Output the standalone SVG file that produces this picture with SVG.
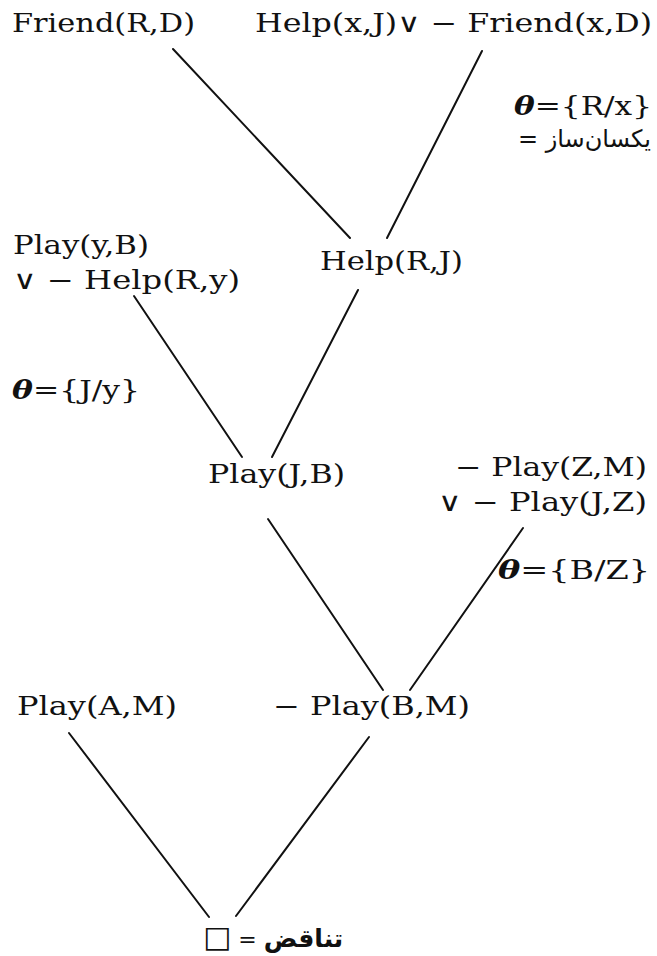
<svg xmlns="http://www.w3.org/2000/svg" width="657" height="956" viewBox="0 0 657 956">
<style>
.t{font-family:"DejaVu Serif","Liberation Serif",serif;font-size:26px;fill:#111}
.th{font-family:"DejaVu Serif",serif;font-weight:bold;font-style:italic}
.fa{font-family:"DejaVu Sans","Noto Sans",sans-serif;font-size:22px;fill:#111}
.c line{stroke:#111;stroke-width:2;stroke-linecap:round}
</style>
<rect width="657" height="956" fill="#fff"/>
<g id="connectors" class="c">
<line x1="173" y1="49" x2="350" y2="238"/>
<line x1="482" y1="51" x2="387" y2="238"/>
<line x1="134" y1="296" x2="242" y2="457"/>
<line x1="358" y1="290" x2="272" y2="457"/>
<line x1="268" y1="519" x2="383" y2="690"/>
<line x1="523" y1="528" x2="410" y2="690"/>
<line x1="69" y1="733" x2="209" y2="917"/>
<line x1="369" y1="737" x2="236" y2="916"/>
</g>
<g id="n-friend-rd"><text class="t" x="12" y="32" textLength="183" lengthAdjust="spacingAndGlyphs">Friend(R,D)</text></g>
<g id="n-help-xj"><text class="t" x="255" y="32" textLength="397" lengthAdjust="spacingAndGlyphs">Help(x,J)∨ − Friend(x,D)</text></g>
<g id="l-theta1">
<text class="t" x="514" y="115" textLength="138" lengthAdjust="spacingAndGlyphs"><tspan class="th">θ</tspan>={R/x}</text>
<text class="fa" x="651" y="147" text-anchor="end" style="font-size:24px">= یکسان‌ساز</text>
</g>
<g id="n-play-yb">
<text class="t" x="13" y="254" textLength="136" lengthAdjust="spacingAndGlyphs">Play(y,B)</text>
<text class="t" x="13" y="289" textLength="227" lengthAdjust="spacingAndGlyphs">∨ − Help(R,y)</text>
</g>
<g id="n-help-rj"><text class="t" x="320" y="270" textLength="143" lengthAdjust="spacingAndGlyphs">Help(R,J)</text></g>
<g id="l-theta2"><text class="t" x="12" y="399" textLength="128" lengthAdjust="spacingAndGlyphs"><tspan class="th">θ</tspan>={J/y}</text></g>
<g id="n-play-jb"><text class="t" x="208" y="483" textLength="137" lengthAdjust="spacingAndGlyphs">Play(J,B)</text></g>
<g id="n-play-zm">
<text class="t" x="455" y="476" textLength="192" lengthAdjust="spacingAndGlyphs">− Play(Z,M)</text>
<text class="t" x="438" y="511" textLength="209" lengthAdjust="spacingAndGlyphs">∨ − Play(J,Z)</text>
</g>
<g id="l-theta3"><text class="t" x="498" y="579" textLength="152" lengthAdjust="spacingAndGlyphs"><tspan class="th">θ</tspan>={B/Z}</text></g>
<g id="n-play-am"><text class="t" x="17" y="715" textLength="160" lengthAdjust="spacingAndGlyphs">Play(A,M)</text></g>
<g id="n-play-bm"><text class="t" x="273" y="715" textLength="197" lengthAdjust="spacingAndGlyphs">− Play(B,M)</text></g>
<g id="n-empty"><text class="fa" x="203" y="947"><tspan style="font-size:30px">□</tspan> = <tspan style="font-weight:bold;font-size:25px">تناقض</tspan></text></g>
</svg>
